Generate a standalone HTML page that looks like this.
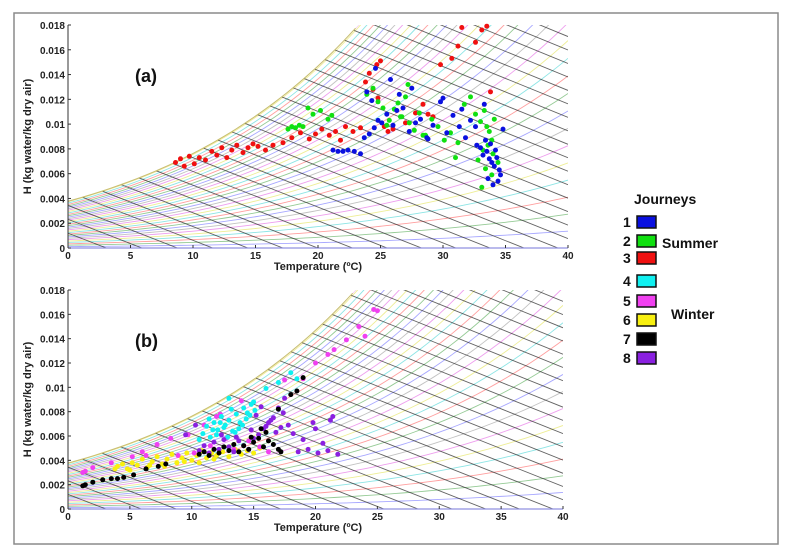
<!DOCTYPE html>
<html><head><meta charset="utf-8">
<style>
html,body{margin:0;padding:0;background:#fff;overflow:hidden;width:792px;height:557px;}
svg{display:block;font-family:"Liberation Sans",sans-serif;}
</style></head>
<body>
<svg id="chart" width="792" height="557" viewBox="0 0 792 557">
<rect x="14" y="13" width="764" height="531" fill="#fff" stroke="#8a8a8a" stroke-width="1.5"/>
<g id="panelA"></g>
<g id="panelB"></g>
<g id="legend"></g>
</svg>
<script>
// ---- data (Temperature °C, H kg/kg) ----
const xTicks=[0,5,10,15,20,25,30,35,40];
const yTicks=[0,0.002,0.004,0.006,0.008,0.01,0.012,0.014,0.016,0.018];
const yTickLabels=["0","0.002","0.004","0.006","0.008","0.01","0.012","0.014","0.016","0.018"];
const j1T=[21.2,21.6,22,22.4,22.9,23.4,23.7,24.1,24.5,24.8,25.1,24.3,23.9,25.5,26,26.3,26.8,27.3,27.8,28.2,28.7,29.2,29.8,30.3,30.8,31.3,31.8,32.2,32.7,33,33.2,33.5,33.7,33.9,34.1,34.3,34.5,33.4,33.8,34.2,34.6,33.6,34.0,34.4,32.6,31.5,30,27.5,26.5,25.8,24.6,28.8,33.3,34.8];
const j1H=[0.0079,0.0078,0.0078,0.0079,0.0078,0.0076,0.0089,0.0092,0.0097,0.0103,0.0101,0.0119,0.0126,0.0108,0.0099,0.0111,0.0113,0.0094,0.0101,0.0104,0.0089,0.0099,0.0118,0.0093,0.0107,0.0098,0.0089,0.0103,0.0083,0.0081,0.0075,0.0078,0.0072,0.0069,0.0066,0.0073,0.0063,0.0087,0.0084,0.0079,0.0059,0.0056,0.0051,0.0054,0.0098,0.0112,0.0121,0.0129,0.0124,0.0136,0.0145,0.0088,0.0116,0.0096];
const j2T=[17.6,17.9,18.2,18.5,18.8,19.2,19.6,20.2,20.8,21.1,23.9,24.4,24.8,25.2,25.7,26.1,26.4,26.7,27,27.3,27.7,28.1,28.6,29.1,29.6,30.1,30.6,31.2,31.7,32.2,32.6,33,33.3,33.5,33.7,33.9,34.1,33.2,33.6,34,34.4,32.8,33.4,33.9,33.1,27.2,26.6,25.5,28.4,31];
const j2H=[0.0096,0.0098,0.0097,0.0099,0.0098,0.0113,0.0108,0.0111,0.0104,0.0107,0.0124,0.0129,0.0118,0.0113,0.0103,0.0112,0.0117,0.0106,0.0122,0.0101,0.0095,0.0109,0.0091,0.0104,0.0098,0.0087,0.0093,0.0085,0.0116,0.0122,0.0108,0.0102,0.0111,0.0098,0.0094,0.0087,0.0104,0.0079,0.0083,0.0076,0.0069,0.0071,0.0064,0.0059,0.0049,0.0132,0.0106,0.0099,0.0091,0.0073];
const j3T=[8.6,9,9.3,9.7,10.1,10.5,11,11.5,11.9,12.3,12.7,13.1,13.5,14,14.4,14.8,15.2,15.8,16.4,17.2,17.9,18.6,19.3,19.8,20.3,20.9,21.4,21.8,22.2,22.8,23.4,23.8,24.1,24.4,24.7,25,25.3,26,27,27.8,28.4,29.2,29.8,30.7,31.2,31.5,32.6,33.1,33.5,33.8,28.8,24.8,25.6];
const j3H=[0.0069,0.0072,0.0066,0.0074,0.0068,0.0073,0.0071,0.0078,0.0075,0.0081,0.0073,0.0079,0.0083,0.0077,0.0081,0.0084,0.0082,0.0079,0.0083,0.0085,0.0089,0.0093,0.0088,0.0092,0.0096,0.0091,0.0094,0.0087,0.0098,0.0094,0.0097,0.0134,0.0141,0.0128,0.0148,0.0151,0.0098,0.0096,0.0101,0.0109,0.0116,0.0106,0.0148,0.0153,0.0163,0.0178,0.0166,0.0176,0.0179,0.0126,0.0108,0.0121,0.0094];
const j4T=[10.6,10.9,11.2,11.5,11.8,12.1,12.4,12.7,13,13.3,13.6,13.9,14.2,14.5,14.8,15.1,11.4,12,12.6,13.2,13.8,14.4,15,12.9,13.5,14.1,14.7,11.7,12.3,16,17,18,18.5,13];
const j4H=[0.0057,0.0062,0.0068,0.0059,0.0071,0.0065,0.0076,0.0069,0.0073,0.0064,0.0078,0.0071,0.0083,0.0079,0.0086,0.0081,0.0074,0.0061,0.0067,0.0082,0.0066,0.0074,0.0088,0.0059,0.0063,0.0069,0.0077,0.0065,0.0071,0.0099,0.0104,0.0112,0.0107,0.0091];
const j5T=[1.2,1.4,2,3.5,6,6.3,7.2,8.3,9.7,11,12,12.3,14,17.5,19,20,21,21.5,22.5,23.5,24,24.7,25,11.5,13.4,14.6,15.5,16.2,12.8,10.2,8.9,5.2];
const j5H=[0.003,0.0031,0.0034,0.0038,0.0047,0.0044,0.0053,0.0058,0.0061,0.0069,0.0076,0.0078,0.0089,0.0106,0.0107,0.012,0.0127,0.0131,0.0139,0.015,0.0142,0.0164,0.0163,0.0052,0.0049,0.0056,0.0051,0.0047,0.0058,0.0046,0.0044,0.0043];
const j6T=[4,4.4,4.8,5.2,5.6,6,6.4,6.8,7.2,7.6,8,8.4,8.8,9.2,9.6,10,10.4,10.8,11.2,11.6,12,12.5,13,13.5,14,14.5,15,15.5,5,6.6,7.8,9.4,10.6,3.8,11.8,13.8];
const j6H=[0.0035,0.0037,0.0033,0.0038,0.0036,0.0041,0.0034,0.0039,0.0043,0.0037,0.0041,0.0045,0.0038,0.0042,0.0046,0.004,0.0044,0.0048,0.0042,0.0046,0.0044,0.0047,0.0043,0.0049,0.0045,0.0048,0.0046,0.005,0.0032,0.0036,0.0035,0.0039,0.0038,0.0033,0.0041,0.0047];
const j7T=[1.2,1.4,2,2.8,3.5,4,4.5,5.3,6.3,7.3,7.9,10.6,11,11.4,11.8,12.2,12.6,13,13.4,13.8,14.2,14.6,15,15.4,15.8,16.2,16.6,17,17.2,16,17,18,18.5,19,15.6,14.8];
const j7H=[0.0019,0.002,0.0022,0.0024,0.0025,0.0025,0.0026,0.0028,0.0033,0.0035,0.0037,0.0045,0.0047,0.0044,0.0049,0.0046,0.0051,0.0048,0.0053,0.0047,0.0052,0.0049,0.0055,0.0058,0.0051,0.0056,0.0053,0.0049,0.0047,0.0063,0.0082,0.0094,0.0097,0.0108,0.0066,0.0059];
const j8T=[9.5,10.3,10.6,11,11.4,11.8,12.2,12.6,13,13.4,13.8,14.2,14.6,15,15.4,15.8,16.2,16.6,17,17.4,17.8,15.2,15.6,16,16.4,16.8,17.2,17.5,18.2,18.6,19,19.4,19.8,20.2,20.6,21,21.4,21.8,20,21.2,12.4,13.6,14.8];
const j8H=[0.0061,0.0069,0.0048,0.0052,0.0046,0.0055,0.0049,0.0057,0.0051,0.0047,0.0056,0.0052,0.0049,0.0058,0.0061,0.0066,0.0071,0.0075,0.0083,0.0079,0.0069,0.0077,0.0084,0.0068,0.0073,0.0063,0.0067,0.0091,0.0062,0.0047,0.0057,0.0049,0.0071,0.0046,0.0054,0.0048,0.0076,0.0045,0.0066,0.0073,0.0061,0.0059,0.0065];
const journeyColors=["#0a10e0","#10e010","#f01010","#10f0f0","#f040f0","#f8f010","#000000","#8a20e0"];

const NS="http://www.w3.org/2000/svg";
function mk(tag,attrs,parent){const e=document.createElementNS(NS,tag);for(const k in attrs)e.setAttribute(k,attrs[k]);if(parent)parent.appendChild(e);return e;}
function hsat(T){const ps=610.78*Math.exp(17.27*T/(T+237.3));return 0.622*ps/(101325-ps);}
function hrh(T,rh){const ps=rh*610.78*Math.exp(17.27*T/(T+237.3));return 0.622*ps/(101325-ps);}

function panel(g,id,x0,x1,y0,y1,label,series){
  const sx=T=>x0+(x1-x0)*T/40, sy=H=>y1-(y1-y0)*H/0.018;
  const cp=mk('clipPath',{id:'clip'+id},g);
  let d='M'+sx(0)+','+sy(0);
  for(let T=0;T<=40;T+=0.25){d+=' L'+sx(T).toFixed(2)+','+Math.max(y0,sy(hsat(T))).toFixed(2);}
  d+=' L'+sx(40)+','+sy(0)+'Z';
  mk('path',{d:d},cp);
  const grid=mk('g',{'clip-path':'url(#clip'+id+')'},g);
  
  
  const cyc=["#6060ff","#40a040","#ff5050","#30d0d0","#e0e040","#e050e0","#909090"];
  let i=0;
  for(let k=1;k<=34;k++){const rh=Math.min(1,k*0.03);let p='';
    for(let T=0;T<=40;T+=0.5){p+=(T?' L':'M')+sx(T).toFixed(2)+','+sy(hrh(T,rh)).toFixed(2);}
    mk('path',{d:p,fill:'none',stroke:cyc[i++%cyc.length],'stroke-width':0.9,opacity:0.55},grid);}
  for(let h=3;h<=90;h+=2.8){const f=T=>(h-1.006*T)/(2501+1.86*T);
    mk('line',{x1:sx(0),y1:sy(f(0)),x2:sx(40),y2:sy(f(40)),stroke:'#303030','stroke-width':0.9,opacity:0.75},grid);}
  mk('path',{d:(()=>{let p='';for(let T=0;T<=40;T+=0.5){const H=hsat(T);if(H>0.0181)break;p+=(T?' L':'M')+sx(T).toFixed(2)+','+sy(H).toFixed(2);}return p;})(),fill:'none',stroke:'#c8c070','stroke-width':1},g);
  mk('line',{x1:sx(0),y1:sy(0),x2:sx(40),y2:sy(0),stroke:'#9090e0','stroke-width':1.2},g);
  mk('line',{x1:sx(0),y1:y0,x2:sx(0),y2:y1,stroke:'#333','stroke-width':1},g);
  const ax=mk('g',{},g);
  
  
  xTicks.forEach(t=>{mk('line',{x1:sx(t),y1:y1,x2:sx(t),y2:y1-3,stroke:'#333'},ax);
    const tx=mk('text',{x:sx(t),y:y1+11,'font-size':10,'font-weight':'bold','text-anchor':'middle',fill:'#222'},ax);tx.textContent=t;});
  const ay=mk('g',{},g);
  
  
  yTicks.forEach((t,k)=>{mk('line',{x1:sx(0),y1:sy(t),x2:sx(0)+3,y2:sy(t),stroke:'#333'},ay);
    const tx=mk('text',{x:sx(0)-3,y:sy(t)+4,'font-size':10,'font-weight':'bold','text-anchor':'end',fill:'#222'},ay);tx.textContent=yTickLabels[k];});
  const xt=mk('text',{x:318,y:y1+22,'font-size':11,'font-weight':'bold','text-anchor':'middle',fill:'#222'},g);
  
  
  xt.textContent='Temperature (ºC)';
  const yc=(y0+y1)/2;
  const yt=mk('text',{x:0,y:0,transform:'translate(31,'+yc+') rotate(-90)','font-size':11,'font-weight':'bold','text-anchor':'middle',fill:'#222'},g);
  
  
  yt.textContent='H (kg water/kg dry air)';
  const pl=mk('text',{x:135,y:y0+57,'font-size':18,'font-weight':'bold',fill:'#111'},g);
  
  
  pl.textContent=label;
  series.forEach(s=>{const sg=mk('g',{fill:journeyColors[s.c]},g);
    
    
    s.T.forEach((T,k)=>{const c=mk('circle',{cx:sx(T).toFixed(1),cy:sy(s.H[k]).toFixed(1),r:2.5},sg);
      
      });});
}
panel(document.getElementById('panelA'),'a',68,568,25,248,'(a)',
 [{c:2,T:j3T,H:j3H},{c:1,T:j2T,H:j2H},{c:0,T:j1T,H:j1H}]);
panel(document.getElementById('panelB'),'b',68,563,290,509,'(b)',
 [{c:5,T:j6T,H:j6H},{c:4,T:j5T,H:j5H},{c:3,T:j4T,H:j4H},{c:7,T:j8T,H:j8H},{c:6,T:j7T,H:j7H}]);

const lg=document.getElementById('legend');
const tt=mk('text',{x:634,y:204,'font-size':14,'font-weight':'bold',fill:'#111'},lg);


tt.textContent='Journeys';
const rows=[222,241,258,281,301,320,339,358];
rows.forEach((y,k)=>{const e=mk('g',{},lg);
  
  
  const n=mk('text',{x:623,y:y+5,'font-size':14,'font-weight':'bold',fill:'#111'},e);n.textContent=k+1;
  mk('rect',{x:637,y:y-6,width:19,height:12,fill:journeyColors[k],stroke:'#111','stroke-width':1.5},e);});
const su=mk('text',{x:662,y:248,'font-size':14,'font-weight':'bold',fill:'#111'},lg);


su.textContent='Summer';
const wi=mk('text',{x:671,y:319,'font-size':14,'font-weight':'bold',fill:'#111'},lg);


wi.textContent='Winter';
</script>
</body></html>
